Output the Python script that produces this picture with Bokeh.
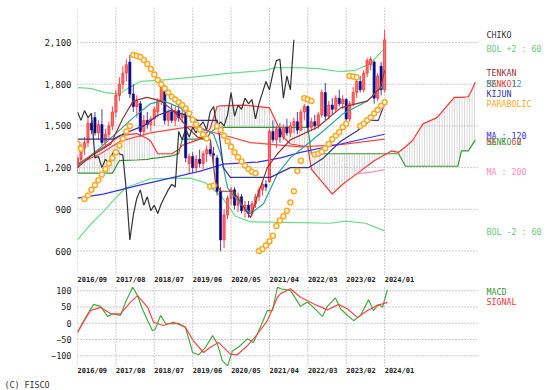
from bokeh.plotting import figure
from bokeh.layouts import column
from bokeh.models import Range1d, FixedTicker, NumeralTickFormatter, Title
from bokeh.core.properties import value
from bokeh.embed import file_html
from bokeh.resources import INLINE

# x is in months since 2016/09
tick_months = [0, 11, 22, 33, 44, 55, 66, 77, 88]
tick_labels = ["2016/09", "2017/08", "2018/07", "2019/06", "2020/05",
               "2021/04", "2022/03", "2023/02", "2024/01"]
main_yticks = [600, 900, 1200, 1500, 1800, 2100]
macd_yticks = [-100, -50, 0, 50, 100]

months = list(range(89))
opens = [1200, 1260, 1340, 1380, 1520, 1560, 1450, 1510, 1380, 1440,
         1500, 1600, 1720, 1800, 1880, 1960, 1730, 1640, 1660, 1460,
         1540, 1510, 1550, 1600, 1680, 1775, 1540, 1600, 1540, 1610,
         1560, 1590, 1230, 1280, 1200, 1260, 1230, 1300, 1330, 1300,
         1270, 1030, 680, 860, 980, 1040, 930, 990, 890, 930,
         870, 940, 990, 1040, 1080, 1100, 1460, 1400, 1480, 1420,
         1490, 1450, 1500, 1530, 1470, 1600, 1640, 1490, 1530, 1500,
         1580, 1740, 1570, 1650, 1620, 1700, 1660, 1690, 1550, 1660,
         1740, 1820, 1760, 1880, 1940, 1960, 1700, 1930, 1760]
highs = [1290, 1370, 1420, 1560, 1580, 1600, 1540, 1620, 1480, 1530,
         1640, 1760, 1850, 1930, 1980, 2010, 1800, 1720, 1680, 1580,
         1600, 1570, 1640, 1700, 1795, 1790, 1620, 1660, 1640, 1650,
         1620, 1600, 1300, 1310, 1290, 1330, 1320, 1360, 1380, 1350,
         1290, 1060, 900, 1000, 1060, 1060, 1020, 1010, 960, 960,
         960, 1010, 1060, 1100, 1110, 1480, 1540, 1500, 1520, 1510,
         1550, 1530, 1560, 1600, 1620, 1660, 1650, 1560, 1580, 1600,
         1760, 1810, 1680, 1700, 1720, 1760, 1720, 1700, 1680, 1780,
         1850, 1860, 1900, 1990, 2000, 1970, 1880, 1960, 2190]
lows = [1160, 1220, 1290, 1350, 1440, 1430, 1400, 1360, 1340, 1410,
        1470, 1560, 1680, 1760, 1820, 1700, 1600, 1560, 1420, 1430,
        1480, 1460, 1500, 1560, 1650, 1510, 1500, 1520, 1500, 1530,
        1520, 1240, 1160, 1160, 1170, 1200, 1190, 1240, 1280, 1230,
        1000, 600, 620, 830, 930, 900, 880, 870, 840, 840,
        850, 910, 960, 1000, 1030, 1090, 1380, 1340, 1380, 1400,
        1430, 1420, 1450, 1440, 1460, 1540, 1450, 1460, 1470, 1480,
        1560, 1540, 1550, 1580, 1600, 1640, 1620, 1520, 1530, 1640,
        1700, 1740, 1740, 1850, 1900, 1660, 1680, 1720, 1740]
closes = [1270, 1340, 1380, 1520, 1470, 1450, 1510, 1380, 1440, 1500,
          1600, 1720, 1800, 1880, 1940, 1730, 1640, 1680, 1460, 1540,
          1510, 1550, 1620, 1680, 1780, 1540, 1600, 1540, 1610, 1560,
          1590, 1270, 1280, 1200, 1260, 1230, 1300, 1330, 1300, 1290,
          1030, 680, 860, 980, 1040, 930, 990, 890, 930, 870,
          940, 990, 1040, 1080, 1060, 1460, 1400, 1480, 1420, 1490,
          1450, 1500, 1530, 1470, 1600, 1640, 1490, 1530, 1500, 1580,
          1740, 1570, 1650, 1620, 1700, 1660, 1690, 1550, 1660, 1740,
          1820, 1760, 1880, 1970, 1980, 1700, 1860, 1760, 2120]
chiko_shift = 26

# Ichimoku cloud (projected ahead)
cloud_t = [0, 7, 10, 12, 17, 20, 21, 23, 27, 29, 30, 35, 37, 38, 40, 41, 48, 55, 59,
           61, 66, 67, 70, 73, 76, 80, 85, 90, 92, 94, 96, 99, 103, 108, 109, 110,
           112, 113, 114]
senkou1 = [1225, 1340, 1390, 1430, 1445, 1410, 1390, 1300, 1300, 1330, 1360, 1405,
           1450, 1480, 1640, 1645, 1650, 1630, 1420, 1370, 1350, 1190, 1100, 1010,
           1080, 1155, 1250, 1320, 1310, 1350, 1395, 1515, 1560, 1705, 1705, 1705,
           1710, 1760, 1815]
senkou2 = [1160, 1160, 1160, 1250, 1255, 1260, 1265, 1270, 1285, 1300, 1405, 1405,
           1405, 1450, 1490, 1490, 1490, 1490, 1490, 1490, 1490, 1300, 1300, 1300,
           1300, 1300, 1300, 1300, 1300, 1210, 1210, 1210, 1210, 1210, 1210, 1320,
           1320, 1360, 1400]

tenkan_t = [0, 3.7, 9.5, 12.9, 16, 20, 23.8, 27.5, 31.5, 34.4, 38.1, 39.5, 41, 44.7,
            49.6, 51.6, 54.4, 57.3, 61, 68.8, 75.4, 83.1, 86.8, 88]
tenkan = [1200, 1280, 1370, 1550, 1680, 1705, 1680, 1610, 1490, 1420, 1400, 1100,
          1030, 1030, 840, 1000, 1200, 1300, 1400, 1490, 1630, 1680, 1775, 1900]

kijun_t = [0, 10.3, 13.8, 18.9, 22.9, 26.6, 31.5, 34.4, 40.1, 41.8, 43.8, 55.3, 61,
           66.2, 70.5, 75.4, 80.2, 84, 86.2, 88]
kijun = [1405, 1405, 1450, 1500, 1575, 1610, 1575, 1540, 1540, 1200, 1130, 1130,
         1200, 1200, 1270, 1390, 1465, 1540, 1540, 1660]

ma12_t = [0, 6.6, 16, 20.9, 24.6, 29.5, 35.2, 39, 41, 43, 46.7, 49.6, 53.3, 57.3,
          61, 65.9, 70.5, 76.2, 83.1, 88]
ma12 = [1210, 1345, 1560, 1660, 1680, 1630, 1490, 1440, 1300, 1055, 940, 870, 940,
        1155, 1270, 1370, 1465, 1590, 1680, 1800]

bol_mid_t = [0, 6.6, 12.3, 20.9, 32.4, 41, 49.6, 63.9, 75.4, 88]
bol_mid = [1225, 1300, 1390, 1450, 1495, 1440, 1380, 1350, 1365, 1405]

bol_up_t = [0, 3.7, 8, 11.7, 13.8, 18, 23.8, 32.4, 43.8, 53.9, 56.7, 63.9, 69.6,
            75.4, 79.7, 84, 88]
bol_up = [1775, 1770, 1740, 1730, 1760, 1820, 1830, 1850, 1880, 1900, 1920, 1920,
          1910, 1890, 1900, 1950, 2060]

bol_dn_t = [0, 3.7, 8, 10.9, 13.8, 20.9, 32.4, 36.7, 41, 45.3, 49.6, 63.9, 72.5,
            76.8, 82.5, 88]
bol_dn = [680, 790, 900, 980, 1055, 1120, 1125, 1090, 1000, 850, 810, 805, 800, 815,
          800, 745]

ma120_t = [0, 7.4, 17.2, 26.6, 35.2, 41.8, 51.6, 58.2, 63.9, 75.4, 88]
ma120 = [980, 1010, 1070, 1125, 1175, 1225, 1240, 1270, 1310, 1370, 1440]

ma200_t = [80.2, 84.5, 88]
ma200 = [1155, 1170, 1185]

psar = [1370, 1335, 975, 1000, 1040, 1075, 1110, 1150, 1190, 1230,
        1270, 1310, 1360, 1410, 1460, 1500, 2010, 2005, 1995, 1975,
        1945, 1910, 1870, 1830, 1800, 1770, 1740, 1710, 1690, 1670,
        1650, 1625, 1590, 1545, 1510, 1475, 1440, 1410, 1065, 1070,
        1500, 1470, 1430, 1390, 1350, 1310, 1275, 1245, 1215, 1190,
        1170, 1160, 600, 615, 640, 670, 710, 780, 820, 850,
        890, 950, 1030, 1175, 1250, 1700, 1690, 1680, 1295, 1300,
        1315, 1340, 1370, 1405, 1430, 1455, 1490, 1515, 1860, 1855,
        1850, 1500, 1515, 1540, 1560, 1590, 1615, 1645, 1670]

macd_t = [0, 1.8, 4.6, 6.6, 8.6, 10.3, 12.3, 13.8, 15.8, 17.2, 18.6, 20.1, 21.5, 22.3,
          23.8, 25.2, 27.2, 28.9, 30.9, 33, 34.7, 36.7, 38.7, 40.1, 41.5, 43, 44.4,
          46.1, 48.7, 50.4, 52.4, 54.4, 55.9, 57.3, 58.2, 61, 63.9, 65.9, 67.6, 70.2,
          71.6, 73.9, 75.4, 77.4, 79.1, 81.1, 83.4, 84.8, 86.2, 87.4, 88.8]
macd = [-28, 8, 58, 52, 21, 29, 24, 65, 111, 85, 44, 8, -23, -18, 24, 0, -2, 0, -12,
        -90, -97, -74, -38, -64, -115, -131, -85, -74, -48, -59, -12, 39, 39, 111, 106,
        101, 52, 65, 49, 21, 52, 78, 44, 24, 8, 24, 72, 39, 58, 49, 103]
signal_t = [0, 3.7, 6.6, 9.5, 12.3, 15.2, 17.2, 20.1, 21.8, 24.6, 27.5, 30.9, 33.2,
            36.1, 38.1, 40.4, 43.8, 45.8, 48.7, 51.6, 54.4, 57.3, 58.2, 61, 63.9, 67.6,
            71.6, 74.8, 77.4, 80.2, 83.1, 86, 88.8]
signal = [-28, 39, 49, 29, 29, 65, 85, 49, 3, -7, 3, -12, -54, -90, -74, -59, -95, -97,
          -69, -33, 8, 80, 91, 106, 80, 60, 41, 58, 44, 18, 39, 55, 64]

legend_names = ["CHIKO", "BOL +2 : 60", "TENKAN", "SENKO1", "MA : 12", "KIJUN",
                "PARABOLIC", "MA : 60", "MA : 120", "SENKO 2", "MA : 200", "BOL -2 : 60"]
legend_colors = ["#333333", "#66cc77", "#993333", "#ff3333", "#33a0a0", "#333399",
                 "#ffaa22", "#ff4444", "#3333ff", "#339933", "#ff88cc", "#66cc77"]
legend_y = [2157, 2057, 1884, 1805, 1805, 1733, 1661, 1388, 1424, 1381, 1172, 740]
macd_names = ["MACD", "SIGNAL"]
macd_colors = ["#339933", "#ff3333"]
macd_label_y = [95, 64]

FONT = "DejaVu Sans Mono"
GRID = "#999999"
GRID_END = 114.6      # grid stops where the projected cloud ends
LEGEND_X = 117.2
LABEL_SHIFT = 4.25    # tick labels sit to the right of their grid line

x_range = Range1d(0, 138.4)
label_ticks = [m + LABEL_SHIFT for m in tick_months]


def style(fig, yticks, y0, y1):
    fig.xaxis.ticker = FixedTicker(ticks=label_ticks)
    fig.xaxis.major_label_overrides = {t: l for t, l in zip(label_ticks, tick_labels)}
    fig.yaxis.ticker = FixedTicker(ticks=yticks)
    for ax in (fig.xaxis, fig.yaxis):
        ax.axis_line_color = None
        ax.major_tick_line_color = None
        ax.minor_tick_line_color = None
        ax.major_tick_in = 0
        ax.major_tick_out = 0
        ax.major_label_text_color = "#222222"
        ax.major_label_text_font = FONT
    fig.xaxis.major_label_text_font_size = "7px"
    fig.xaxis.major_label_text_font_style = "bold"
    fig.xaxis.major_label_standoff = 0
    fig.yaxis.major_label_standoff = 6
    fig.xgrid.visible = False
    fig.ygrid.visible = False
    fig.outline_line_color = None
    fig.background_fill_color = "white"
    fig.border_fill_color = "white"
    # dotted grid, drawn only over the chart area
    fig.segment(x0=[0] * len(yticks), y0=yticks, x1=[GRID_END] * len(yticks), y1=yticks,
                line_color=GRID, line_dash="1 2", line_width=1)
    fig.segment(x0=tick_months, y0=[y0] * len(tick_months), x1=tick_months,
                y1=[y1] * len(tick_months), line_color=GRID, line_dash="1 2", line_width=1)


p = figure(width=560, height=286, x_range=x_range, y_range=Range1d(424, 2352),
           output_backend="svg", toolbar_location=None,
           min_border_left=77, min_border_right=0, min_border_top=7, min_border_bottom=11)
style(p, main_yticks, 424, 2352)
p.yaxis.formatter = NumeralTickFormatter(format="0,0")
p.yaxis.major_label_text_font_size = "9px"

# cloud
p.varea(x=cloud_t, y1=senkou1, y2=senkou2, fill_alpha=0, hatch_pattern="vertical_line",
        hatch_color="#aaaaaa", hatch_scale=2.5, hatch_weight=0.6, hatch_alpha=0.9)
p.line(cloud_t, senkou2, line_color="#339933", line_width=1.2)
p.line(cloud_t, senkou1, line_color="#ff3333", line_width=1.2)

# bollinger & MAs
p.line(bol_up_t, bol_up, line_color="#66dd88", line_width=1.2)
p.line(bol_dn_t, bol_dn, line_color="#66dd88", line_width=1.2)
p.line(bol_mid_t, bol_mid, line_color="#ff4444", line_width=1.2)
p.line(ma120_t, ma120, line_color="#3333ff", line_width=1.2)
p.line(ma200_t, ma200, line_color="#ff88cc", line_width=1.2)

# candles
up = [i for i in months if closes[i] >= opens[i]]
dn = [i for i in months if closes[i] < opens[i]]
p.segment([months[i] for i in up], [highs[i] for i in up], [months[i] for i in up],
          [lows[i] for i in up], line_color="#ff4040", line_width=1)
p.vbar(x=[months[i] for i in up], bottom=[opens[i] for i in up],
       top=[closes[i] for i in up], width=0.6, fill_color="#ff7070",
       line_color="#ff3030", line_width=0.8)
p.segment([months[i] for i in dn], [highs[i] for i in dn], [months[i] for i in dn],
          [lows[i] for i in dn], line_color="#4444aa", line_width=1)
p.vbar(x=[months[i] for i in dn], bottom=[closes[i] for i in dn],
       top=[opens[i] for i in dn], width=0.6, fill_color="#000080",
       line_color="#1a1a99", line_width=0.8)

# ichimoku lines
p.line(ma12_t, ma12, line_color="#33a0a0", line_width=1.2)
p.line(kijun_t, kijun, line_color="#333399", line_width=1.2)
p.line(tenkan_t, tenkan, line_color="#993333", line_width=1.2)
p.line(months[:-chiko_shift], closes[chiko_shift:], line_color="#333333", line_width=1.2)

# parabolic
p.scatter(months, psar, marker="circle", size=5, line_color="#ffaa22",
          line_width=1.5, fill_color="white")

p.text(x=[LEGEND_X] * len(legend_names), y=legend_y, text=legend_names,
       text_color=legend_colors, text_font=value(FONT), text_font_size=value("8.3px"),
       text_baseline="middle", text_align="left")

# MACD panel
q = figure(width=560, height=104, x_range=x_range, y_range=Range1d(-133, 113),
           output_backend="svg", toolbar_location=None,
           min_border_left=77, min_border_right=0, min_border_top=0, min_border_bottom=24)
style(q, macd_yticks, -133, 113)
q.yaxis.major_label_text_font_size = "8.5px"
q.line(macd_t, macd, line_color="#44aa44", line_width=1.2)
q.line(signal_t, signal, line_color="#ff4444", line_width=1.2)
q.text(x=[LEGEND_X] * 2, y=macd_label_y, text=macd_names, text_color=macd_colors,
       text_font=value(FONT), text_font_size=value("8.3px"),
       text_baseline="middle", text_align="left")
q.add_layout(Title(text="(C) FISCO", align="left", offset=-73, text_font=FONT,
                   text_font_size="8.3px", text_color="#333333",
                   text_font_style="normal", standoff=0), "below")

layout = column(p, q, spacing=0)
open("out.html", "w").write(file_html(layout, INLINE))
